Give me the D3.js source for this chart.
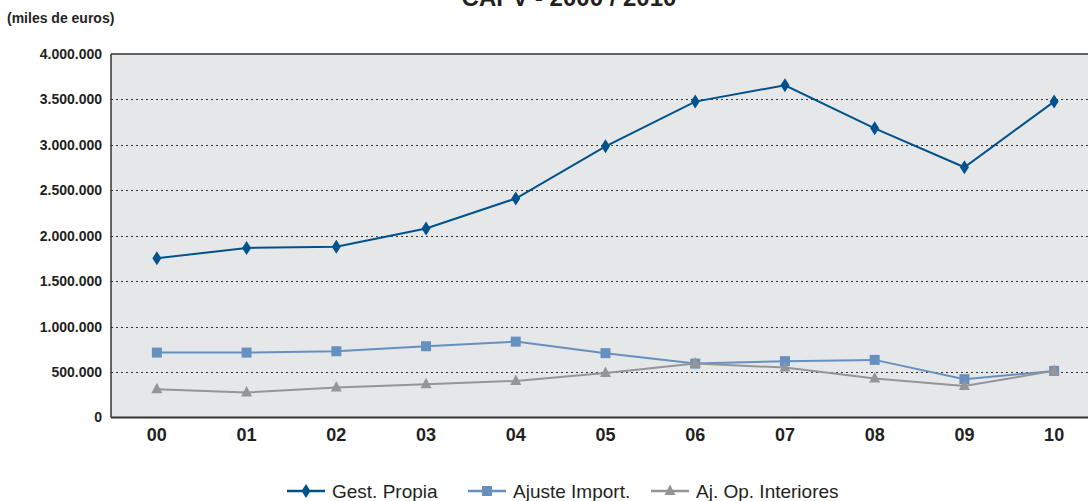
<!DOCTYPE html>
<meta charset="utf-8">
<style>
body { margin: 0; background: #fff; }
svg text { font-family: "Liberation Sans", Arial, sans-serif; fill: #231f20; }
.grid line { stroke: #333; stroke-dasharray: 2,3; stroke-width: 1; }
.axis text { font-weight: bold; }
</style>
<svg width="1088" height="501"></svg>
<script src="https://d3js.org/d3.v7.min.js"></script>
<script>

var years = ["00", "01", "02", "03", "04", "05", "06", "07", "08", "09", "10"];
var gestPropia = [1752000, 1866000, 1880000, 2080000, 2410000, 2984000, 3476000, 3656000, 3182000, 2754000, 3476000];
var ajusteImport = [714000, 714000, 729000, 784000, 835000, 708000, 593000, 620000, 634000, 422000, 513000];
var ajOpInteriores = [312000, 275000, 330000, 367000, 403000, 490000, 595000, 549000, 429000, 348000, 513000];
var yTicks = [0, 500000, 1000000, 1500000, 2000000, 2500000, 3000000, 3500000, 4000000];

var series = [
  {name: "Gest. Propia", values: gestPropia, color: "#00528b", shape: "diamond"},
  {name: "Ajuste Import.", values: ajusteImport, color: "#6690bf", shape: "square"},
  {name: "Aj. Op. Interiores", values: ajOpInteriores, color: "#939598", shape: "triangle"}
];

var svg = d3.select("svg"),
    plotLeft = 111, plotRight = 1099, plotTop = 54, plotBottom = 417.5;

var x = d3.scaleBand().domain(years).range([plotLeft + 1, plotRight]);
var y = d3.scaleLinear().domain([0, 4000000]).range([plotBottom, plotTop]);

var fmt = function(d) { return d3.format(",")(d).replace(/,/g, "."); };

// background
svg.append("rect")
    .attr("x", plotLeft).attr("y", plotTop)
    .attr("width", 1088 - plotLeft).attr("height", plotBottom - plotTop)
    .attr("fill", "#e6e7e9");

// grid
svg.append("g").attr("class", "grid")
  .selectAll("line")
  .data(yTicks.filter(function(d) { return d > 0 && d < 4000000; }))
  .enter().append("line")
    .attr("x1", plotLeft).attr("x2", 1088)
    .attr("y1", function(d) { return Math.round(y(d)) + 0.5; })
    .attr("y2", function(d) { return Math.round(y(d)) + 0.5; });

// frame lines
svg.append("line").attr("x1", plotLeft).attr("x2", 1088).attr("y1", plotTop).attr("y2", plotTop)
    .attr("stroke", "#333").attr("stroke-width", 1.5);
svg.append("line").attr("x1", plotLeft).attr("x2", 1088).attr("y1", plotBottom).attr("y2", plotBottom)
    .attr("stroke", "#333").attr("stroke-width", 2);
svg.append("line").attr("x1", plotLeft).attr("x2", plotLeft).attr("y1", plotTop).attr("y2", plotBottom)
    .attr("stroke", "#333").attr("stroke-width", 1.5);

// y axis labels
var yAxis = svg.append("g").attr("class", "axis")
    .attr("transform", "translate(" + plotLeft + ",0)")
    .call(d3.axisLeft(y).tickValues(yTicks).tickFormat(fmt).tickSize(0).tickPadding(9));
yAxis.select(".domain").remove();
yAxis.selectAll("text").style("font-size", "14px").attr("fill", "#231f20");

// x axis labels
var xAxis = svg.append("g").attr("class", "axis")
    .attr("transform", "translate(0," + plotBottom + ")")
    .call(d3.axisBottom(x).tickSize(0).tickPadding(11));
xAxis.select(".domain").remove();
xAxis.selectAll("text").style("font-size", "18px").attr("fill", "#231f20");

function cx(i) { return x(years[i]) + x.bandwidth() / 2; }

function marker(sel, shape, color) {
  if (shape === "diamond") {
    sel.append("path").attr("d", "M0,-7L4.5,0L0,7L-4.5,0Z").attr("fill", color);
  } else if (shape === "square") {
    sel.append("rect").attr("x", -5).attr("y", -5).attr("width", 10).attr("height", 10).attr("fill", color);
  } else {
    sel.append("path").attr("d", "M0,-6.5L5.5,4L-5.5,4Z").attr("fill", color);
  }
}

var line = d3.line()
    .x(function(d, i) { return cx(i); })
    .y(function(d) { return y(d); });

series.forEach(function(s) {
  svg.append("path")
      .datum(s.values)
      .attr("fill", "none")
      .attr("stroke", s.color)
      .attr("stroke-width", 2)
      .attr("d", line);
  s.values.forEach(function(v, i) {
    var g = svg.append("g").attr("transform", "translate(" + cx(i) + "," + y(v) + ")");
    marker(g, s.shape, s.color);
  });
});

// titles
svg.append("text")
    .attr("x", 569).attr("y", 6)
    .attr("text-anchor", "middle")
    .style("font-size", "24px").style("font-weight", "bold")
    .text("CAPV - 2000 / 2010");

svg.append("text")
    .attr("x", 7).attr("y", 23)
    .style("font-size", "14px").style("font-weight", "bold")
    .text("(miles de euros)");

// legend
var legendX = [287, 468, 651];
var legend = svg.append("g");
series.forEach(function(s, i) {
  var g = legend.append("g").attr("transform", "translate(" + legendX[i] + ",491)");
  g.append("line").attr("x1", 0).attr("x2", 38).attr("y1", 0).attr("y2", 0)
      .attr("stroke", s.color).attr("stroke-width", 2.5);
  var m = g.append("g").attr("transform", "translate(19,0)");
  marker(m, s.shape, s.color);
  g.append("text")
      .attr("x", 45).attr("y", 7)
      .style("font-size", "19px")
      .text(s.name);
});

</script>
